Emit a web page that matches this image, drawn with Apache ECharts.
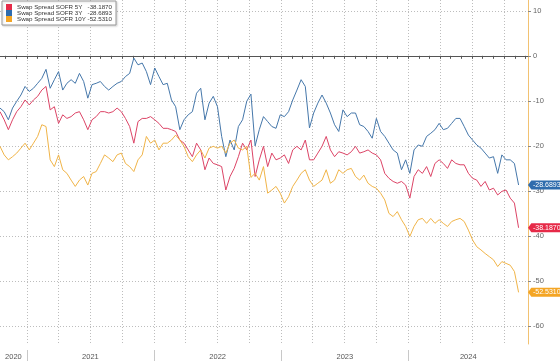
<!DOCTYPE html>
<html><head><meta charset="utf-8">
<script src="https://cdn.jsdelivr.net/npm/echarts@6/dist/echarts.min.js"></script>
<style>html,body{margin:0;padding:0;background:#fff}#c{width:560px;height:361px}</style>
</head><body><div id="c"></div>
<script>
const seriesNames = ['Swap Spread SOFR 5Y', 'Swap Spread SOFR 3Y', 'Swap Spread SOFR 10Y'];
const lastValues = ['-38.1870', '-28.6893', '-52.5310'];
const startDate = '2020-10-16';
const stepDays = 12;
const axisStart = '2020-10-16';
const axisEnd = '2024-12-09';
const yTicks = [-60, -50, -40, -30, -20, -10, 0, 10];
const yearLabels = ['2020', '2021', '2022', '2023', '2024'];

const spread5Y = [
 -12.4,-14.2,-16.4,-14.2,-12.4,-11.3,-9.8,-10.9,-9.8,-9.0,-7.6,-6.8,-12.0,-11.3,-15.0,-13.1,-13.9,-13.5,-12.7,-12.4,-14.2,-16.4,-14.2,-13.5,-12.4,
 -12.4,-12.7,-12.4,-11.6,-12.4,-13.9,-15.7,-19.4,-14.6,-13.9,-13.9,-13.5,-14.2,-15.0,-16.1,-16.1,-16.4,-16.8,-18.7,-19.4,-20.9,-22.4,-19.4,-20.9,-25.3,
 -22.7,-23.9,-24.2,-24.6,-29.8,-26.8,-25.0,-22.4,-19.4,-20.9,-18.7,-26.8,-23.1,-20.1,-24.6,-21.6,-23.1,-22.7,-22.0,-23.9,-20.9,-20.1,-20.9,-18.7,-23.1,
 -23.1,-21.6,-20.1,-17.9,-20.9,-22.4,-21.3,-21.6,-22.0,-21.3,-20.1,-21.6,-21.3,-20.9,-21.6,-22.0,-23.1,-26.1,-27.2,-27.9,-28.3,-27.9,-28.7,-31.6,-26.8,
 -25.3,-26.1,-24.6,-26.8,-23.9,-23.1,-23.9,-25.0,-23.1,-23.9,-24.2,-24.2,-26.1,-27.2,-27.6,-29.0,-27.9,-29.8,-29.4,-30.9,-30.1,-29.8,-31.6,-32.7,-38.187
];
const spread3Y = [
 -11.6,-12.4,-14.2,-11.6,-10.1,-8.7,-6.8,-7.9,-7.2,-6.1,-5.0,-3.0,-7.2,-5.3,-3.5,-7.6,-6.1,-5.3,-6.1,-3.9,-5.7,-9.4,-6.4,-6.1,-5.7,
 -6.8,-7.6,-6.8,-6.1,-5.7,-4.6,-3.9,-0.5,-2.0,-1.6,-3.5,-6.4,-2.7,-4.6,-6.4,-6.1,-9.8,-11.3,-16.4,-14.2,-13.1,-12.4,-8.3,-7.2,-14.2,
 -10.5,-9.0,-11.3,-17.9,-22.4,-18.7,-20.9,-15.7,-14.2,-10.1,-8.5,-20.0,-16.4,-13.5,-14.6,-15.7,-16.1,-13.1,-13.5,-12.4,-9.8,-7.6,-5.3,-6.8,-16.0,
 -12.7,-10.5,-8.7,-10.5,-12.7,-15.3,-16.8,-12.0,-13.5,-12.7,-12.7,-15.3,-15.7,-16.8,-18.3,-13.9,-16.8,-17.9,-19.4,-20.9,-21.6,-25.3,-23.1,-26.1,-20.9,
 -19.8,-20.1,-17.9,-17.2,-16.4,-15.0,-16.4,-16.1,-15.0,-13.9,-13.9,-15.7,-17.6,-18.7,-19.8,-20.5,-21.6,-22.7,-22.4,-26.1,-22.0,-23.1,-23.1,-23.9,-28.6893
];
const spread10Y = [
 -20.1,-22.0,-23.1,-22.4,-21.6,-20.5,-19.4,-20.9,-19.4,-17.9,-15.3,-15.7,-23.1,-24.6,-22.0,-25.3,-26.1,-27.6,-29.0,-27.6,-26.8,-28.7,-26.1,-25.7,-23.9,
 -22.0,-22.7,-23.5,-22.0,-21.6,-23.9,-24.6,-25.7,-23.1,-22.0,-17.9,-19.4,-18.7,-20.9,-19.4,-19.4,-18.7,-17.6,-18.7,-20.1,-22.4,-23.5,-22.0,-20.9,-22.7,
 -20.5,-20.1,-20.5,-20.1,-21.6,-19.4,-18.7,-20.5,-20.9,-20.1,-27.0,-26.1,-27.6,-24.6,-30.5,-29.8,-29.0,-30.5,-32.7,-31.3,-29.0,-27.6,-26.1,-25.3,-27.6,
 -29.0,-28.3,-27.6,-25.3,-28.3,-27.6,-25.3,-26.1,-25.3,-25.0,-26.8,-27.6,-26.5,-28.3,-29.0,-29.4,-30.5,-32.0,-35.0,-35.7,-34.6,-36.4,-37.9,-40.1,-37.9,
 -36.4,-36.1,-37.2,-36.1,-37.2,-36.4,-37.2,-37.9,-36.8,-36.4,-36.1,-36.8,-38.7,-40.9,-42.4,-43.1,-43.9,-44.6,-45.3,-46.8,-45.7,-46.1,-46.5,-47.9,-52.531
];

const lineColors = ['#dc4466', '#4577aa', '#f0b448'];
const tagColors = ['#e62a48', '#2f6cad', '#f4a524'];
const FONT = '"Liberation Sans", Arial, sans-serif';

const DAY = 86400000;
const t0 = Date.parse(startDate);
const dates = spread5Y.map((_, i) => t0 + i * stepDays * DAY);
const xMin = Date.parse(axisStart), xMax = Date.parse(axisEnd);
const monthStarts = [], quarterStarts = [], yearStarts = [];
for (let y = 2020; y <= 2025; y++) for (let m = 0; m < 12; m++) {
  const t = Date.UTC(y, m, 1);
  if (t > xMin && t < xMax) { monthStarts.push(t); if (m % 3 === 0) quarterStarts.push(t); if (m === 0) yearStarts.push(t); }
}
const labelPos = yearLabels.map(y => {
  const a = Math.max(Date.UTC(+y, 0, 1), xMin), b = Math.min(Date.UTC(+y + 1, 0, 1), xMax);
  return (a + b) / 2;
});

const allData = [spread5Y, spread3Y, spread10Y];
const series = allData.map((arr, k) => ({
  name: seriesNames[k], type: 'line', xAxisIndex: 0, showSymbol: false, symbol: 'none',
  lineStyle: { width: 1, color: lineColors[k] }, itemStyle: { color: tagColors[k] },
  data: dates.map((t, i) => [t, arr[i]]),
  markPoint: {
    silent: true, animation: false,
    symbol: 'path://M0,5L5,0L60,0L60,10L5,10Z', symbolKeepAspect: false,
    symbolSize: [40, 9], symbolOffset: [20, 0],
    itemStyle: { color: tagColors[k] },
    label: { show: true, position: 'insideLeft', distance: 5, color: '#fff', fontSize: 7, fontFamily: FONT, formatter: () => lastValues[k] },
    data: [{ coord: [xMax, arr[arr.length - 1]] }]
  }
}));

const chart = echarts.init(document.getElementById('c'), null, { renderer: 'canvas' });
chart.setOption({
  animation: false,
  backgroundColor: '#fff',
  textStyle: { fontFamily: FONT },
  grid: { left: 0, right: 32, top: 0, bottom: 17, containLabel: false },
  legend: {
    data: seriesNames, orient: 'vertical', left: 2, top: 1, padding: [3, 4, 3, 4], itemGap: 0,
    itemWidth: 6, itemHeight: 6, icon: 'rect', backgroundColor: '#fff', borderColor: '#9a9a9a', borderWidth: 1,
    shadowColor: 'rgba(0,0,0,0.15)', shadowBlur: 2, shadowOffsetX: 1, shadowOffsetY: 1,
    selectedMode: false,
    textStyle: { fontSize: 6.2, color: '#333', fontFamily: FONT,
      rich: { n: { width: 69, fontSize: 6.2, lineHeight: 8.7, color: '#333', fontFamily: FONT },
              v: { width: 26, align: 'right', fontSize: 6.2, lineHeight: 8.7, color: '#333', fontFamily: FONT } } },
    formatter: name => `{n|${name}}{v|${lastValues[seriesNames.indexOf(name)]}}`
  },
  xAxis: [
    { type: 'value', position: 'bottom', min: xMin, max: xMax,
      axisLine: { show: true, lineStyle: { color: '#555', width: 1 } },
      axisTick: { show: true, customValues: monthStarts, length: 3, lineStyle: { color: '#555' } },
      axisLabel: { show: true, customValues: labelPos, color: '#555', fontSize: 7.5, margin: 9, fontFamily: FONT,
        formatter: v => String(new Date(v).getUTCFullYear()) },
      splitLine: { show: false } },
    { type: 'value', position: 'bottom', min: xMin, max: xMax,
      axisLine: { show: false }, axisLabel: { show: false },
      axisTick: { show: false, customValues: quarterStarts },
      splitLine: { show: true, lineStyle: { color: '#bdbdbd', width: 1, type: [1, 2] } } },
    { type: 'value', position: 'bottom', min: xMin, max: xMax, offset: 6,
      axisLine: { show: false }, axisLabel: { show: false },
      axisTick: { show: true, customValues: yearStarts, length: 11, lineStyle: { color: '#c8c8c8' } },
      splitLine: { show: false } }
  ],
  yAxis: {
    type: 'value', position: 'right', min: -64, max: 12.4,
    axisLine: { show: true, lineStyle: { color: '#f2c272', width: 1 } },
    axisTick: { show: true, customValues: yTicks, length: 3, lineStyle: { color: '#888' } },
    axisLabel: { show: true, customValues: yTicks, color: '#666', fontSize: 7.5, margin: 5, fontFamily: FONT },
    splitLine: { show: true, lineStyle: { color: '#bdbdbd', width: 1, type: [1, 2] } }
  },
  series: series
});
</script></body></html>
